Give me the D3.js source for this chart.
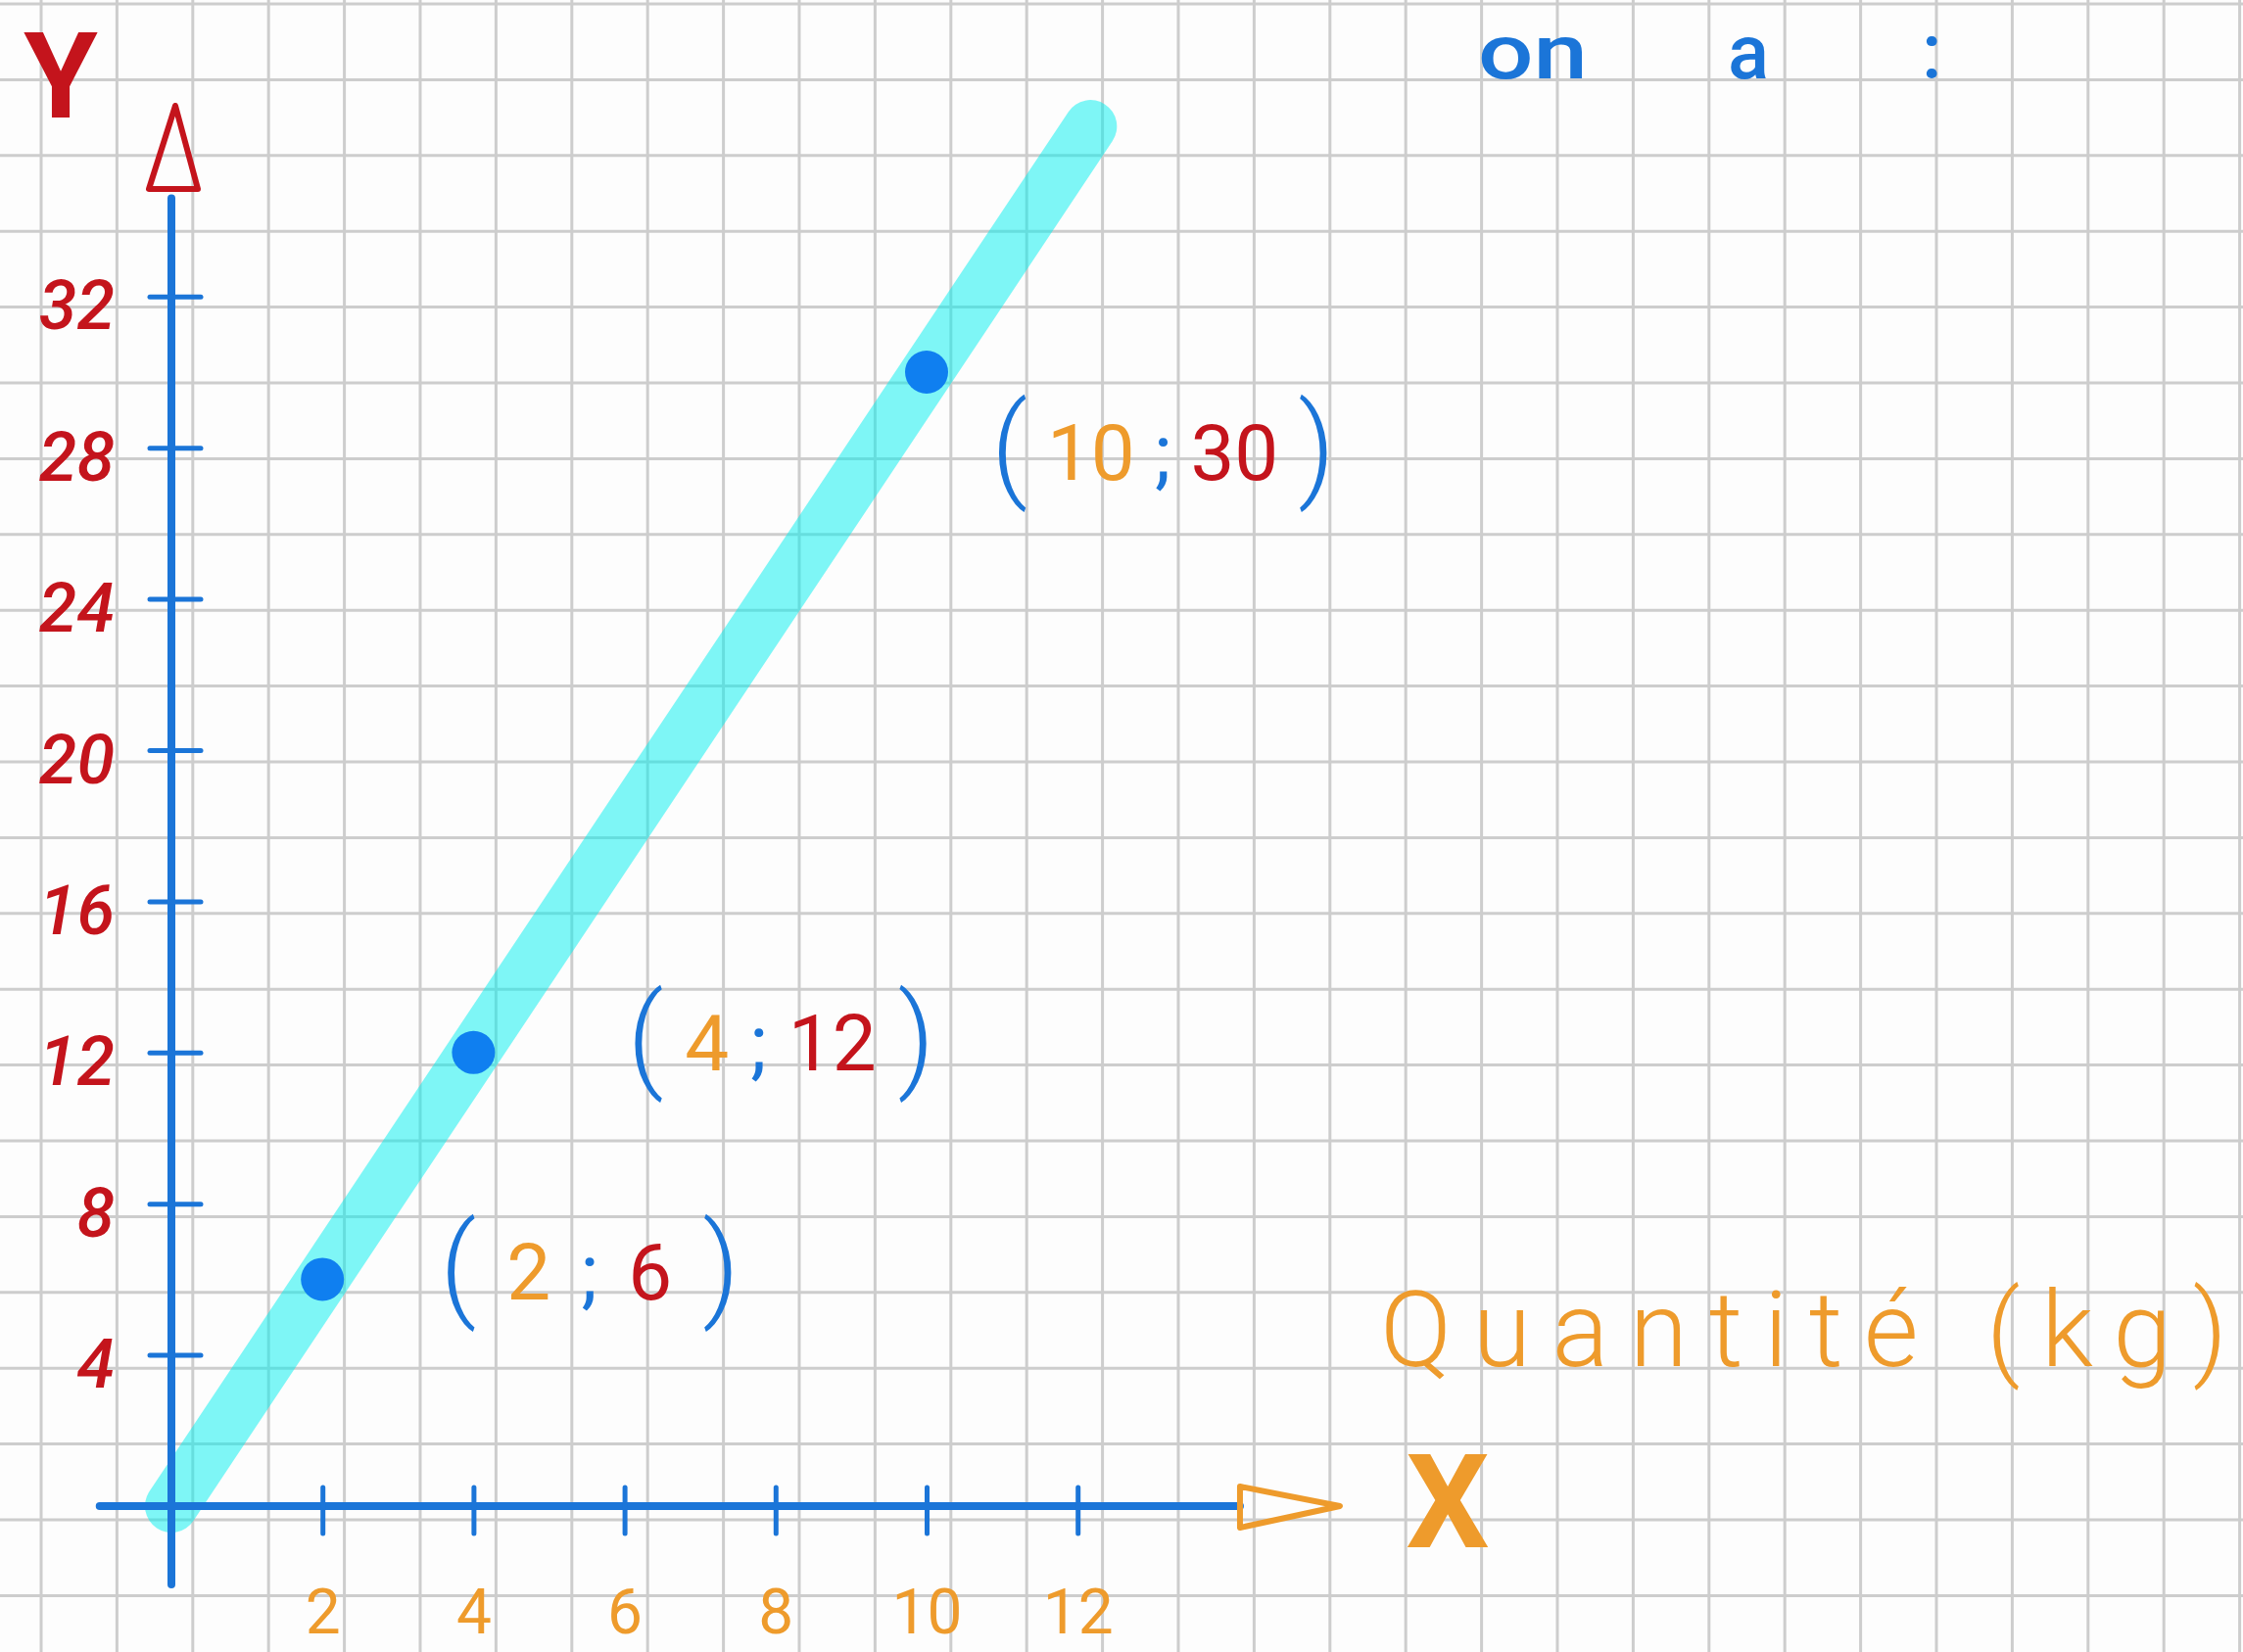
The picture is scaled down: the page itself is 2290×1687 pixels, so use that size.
<!DOCTYPE html>
<html>
<head>
<meta charset="utf-8">
<script src="https://cdn.jsdelivr.net/npm/d3@7"></script>
<style>
  body { margin: 0; background: #fff; }
  text { font-family: Roboto, "DejaVu Sans", sans-serif; }
</style>
</head>
<body>
<script>
// values
const xTicks = [2, 4, 6, 8, 10, 12]
const yTicks = [4, 8, 12, 16, 20, 24, 28, 32]
const pointX = [2, 4, 10]
const pointY = [6, 12, 30]
// the highlighter stroke y = 3x, drawn from the origin up past x = 12
const lineX = [0, 12.17]
const lineY = [0, 36.5]

const fullWidth = 2290
const fullHeight = 1687
const origin = { x: 175, y: 1538 }
const gridStep = 77.4
const gridStart = { x: 42, y: 4 }

const red = '#c4141c'
const orange = '#ee9b2c'
const blue = '#1b75d8'
const dotBlue = '#0f7ff0'

// where each "(x ; y)" label sits, relative to its point (px), and its width
const labelOffsets = [[120, -7, 306], [157, -10, 314], [66, 82, 351]]

const x = d3.scaleLinear()
  .domain([0, 12])
  .range([origin.x, origin.x + 12 * 77.1])

const y = d3.scaleLinear()
  .domain([0, 32])
  .range([origin.y, origin.y - 32 * 38.6])

const svg = d3.select('body')
  .append('svg')
  .attr('width', fullWidth)
  .attr('height', fullHeight)

svg.append('rect')
  .attr('width', fullWidth)
  .attr('height', fullHeight)
  .attr('fill', '#fdfdfd')

// squared paper
const paper = svg.append('g')
  .attr('stroke', '#cdcdcd')
  .attr('stroke-width', 3)

paper.selectAll('.vline')
  .data(d3.range(gridStart.x, fullWidth, gridStep))
  .enter().append('line')
  .attr('x1', d => d).attr('x2', d => d)
  .attr('y1', 0).attr('y2', fullHeight)

paper.selectAll('.hline')
  .data(d3.range(gridStart.y, fullHeight, gridStep))
  .enter().append('line')
  .attr('y1', d => d).attr('y2', d => d)
  .attr('x1', 0).attr('x2', fullWidth)

// cyan highlighter line
const linePts = lineX.map((v, i) => [v, lineY[i]])
svg.append('path')
  .datum(linePts)
  .attr('fill', 'none')
  .attr('stroke', '#00f0f0')
  .attr('stroke-opacity', 0.5)
  .attr('stroke-width', 54)
  .attr('stroke-linecap', 'round')
  .attr('d', d3.line().x(d => x(d[0])).y(d => y(d[1])))

// axes lines (drawn past the tick range like in the sketch)
svg.append('line')
  .attr('x1', x(0)).attr('x2', x(0))
  .attr('y1', y(-2.07)).attr('y2', y(34.6))
  .attr('stroke', blue).attr('stroke-width', 8).attr('stroke-linecap', 'round')

svg.append('line')
  .attr('x1', x(-0.95)).attr('x2', x(14.15))
  .attr('y1', y(0)).attr('y2', y(0))
  .attr('stroke', blue).attr('stroke-width', 8).attr('stroke-linecap', 'round')

const xAxis = svg.append('g')
  .attr('transform', `translate(0,${y(0)})`)
  .call(d3.axisBottom(x).tickValues(xTicks).tickSize(0).tickFormat(d3.format('d')))
xAxis.select('.domain').remove()
xAxis.selectAll('.tick line')
  .attr('y1', -19).attr('y2', 28)
  .attr('stroke', blue).attr('stroke-width', 5).attr('stroke-linecap', 'round')
xAxis.selectAll('.tick text')
  .attr('y', 130).attr('dy', 0)
  .attr('fill', orange)
  .attr('font-size', 64)
  .attr('font-weight', 400)

const yAxis = svg.append('g')
  .attr('transform', `translate(${x(0)},0)`)
  .call(d3.axisLeft(y).tickValues(yTicks).tickSize(0).tickFormat(d3.format('d')))
yAxis.select('.domain').remove()
yAxis.selectAll('.tick line')
  .attr('x1', -22).attr('x2', 30)
  .attr('stroke', blue).attr('stroke-width', 5).attr('stroke-linecap', 'round')
yAxis.selectAll('.tick text')
  .attr('x', -58).attr('dy', 33)
  .attr('text-anchor', 'end')
  .attr('fill', red)
  .attr('font-size', 70)
  .attr('font-weight', 500)
  .attr('font-style', 'italic')

// arrow heads (outlined triangles)
svg.append('path')
  .attr('d', `M${x(0) + 4},${y(0) - 1430}L${x(0) - 23},${y(0) - 1345}L${x(0) + 27},${y(0) - 1345}Z`)
  .attr('fill', 'none').attr('stroke', red).attr('stroke-width', 6).attr('stroke-linejoin', 'round')

svg.append('path')
  .attr('d', `M${x(14.15)},${y(0) - 20}L${x(14.15) + 102},${y(0)}L${x(14.15)},${y(0) + 22}Z`)
  .attr('fill', 'none').attr('stroke', orange).attr('stroke-width', 6).attr('stroke-linejoin', 'round')

// points
const points = pointX.map((v, i) => ({ x: v, y: pointY[i] }))
svg.selectAll('.dot')
  .data(points)
  .enter().append('circle')
  .attr('class', 'dot')
  .attr('cx', d => x(d.x))
  .attr('cy', d => y(d.y))
  .attr('r', 22)
  .attr('fill', dotBlue)

// "(x ; y)" labels, each part coloured like the sketch
points.forEach((d, i) => {
  const parts = [
    { t: '(', c: blue, paren: true },
    { t: d.x, c: orange },
    { t: ';', c: blue },
    { t: d.y, c: red },
    { t: ')', c: blue, paren: true }
  ]
  const left = x(d.x) + labelOffsets[i][0]
  const cy = y(d.y) + labelOffsets[i][1]
  const texts = parts.map(p => svg.append('text')
    .attr('y', p.paren ? cy + 34 : cy + 28)
    .attr('fill', p.c)
    .attr('font-size', p.paren ? 116 : 80)
    .attr('font-weight', p.paren ? 300 : 400)
    .text(p.t))
  // spread the parts over the width the hand-written label takes
  const widths = texts.map(t => t.node().getComputedTextLength())
  const gap = (labelOffsets[i][2] - d3.sum(widths)) / (parts.length - 1)
  let cursor = left
  texts.forEach((t, k) => {
    t.attr('x', cursor)
    cursor += widths[k] + gap
  })
})

// axis names
svg.append('text')
  .attr('x', 62).attr('y', 120)
  .attr('text-anchor', 'middle')
  .attr('fill', red)
  .attr('font-size', 122)
  .attr('font-weight', 700)
  .text('Y')

svg.append('text')
  .attr('x', 1478).attr('y', 1580)
  .attr('text-anchor', 'middle')
  .attr('fill', orange)
  .attr('font-size', 134)
  .attr('font-weight', 700)
  .text('X')

svg.append('text')
  .attr('x', 1409).attr('y', 1395)
  .attr('fill', orange)
  .attr('font-size', 108)
  .attr('font-weight', 300)
  .attr('textLength', 865)
  .attr('lengthAdjust', 'spacing')
  .text('Quantité (kg)')

// "on a :" note, top right
const note = [['on', 1509, 112], ['a', 1764, null], [':', 1962, null]]
note.forEach(n => {
  const t = svg.append('text')
    .attr('x', n[1]).attr('y', 80)
    .attr('fill', blue)
    .attr('font-size', 78)
    .attr('font-weight', 500)
    .text(n[0])
  if (n[2]) t.attr('textLength', n[2]).attr('lengthAdjust', 'spacingAndGlyphs')
})
</script>
</body>
</html>
